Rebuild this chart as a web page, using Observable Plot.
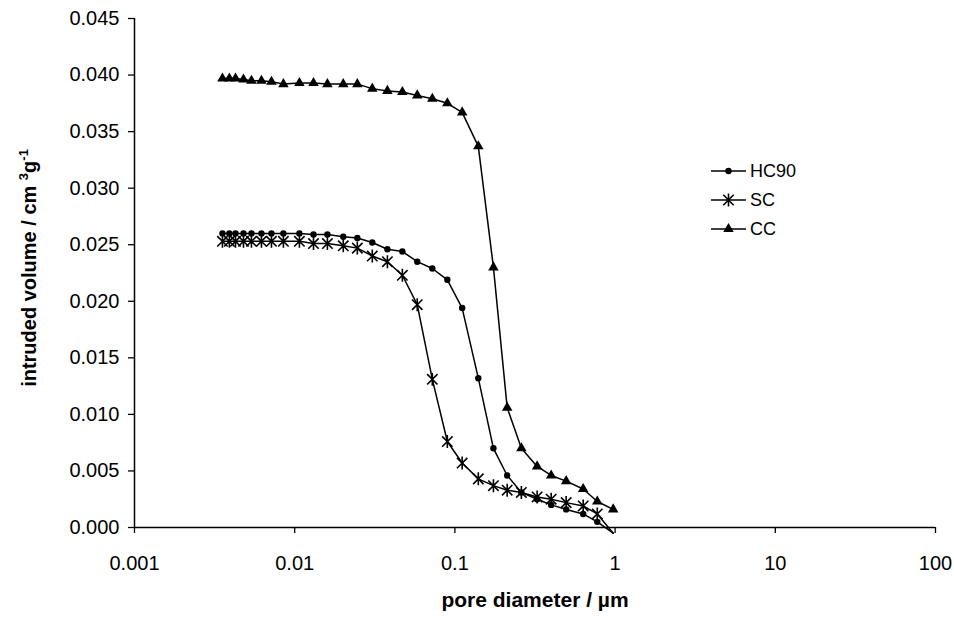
<!DOCTYPE html>
<html>
<head>
<meta charset="utf-8">
<script src="https://cdn.jsdelivr.net/npm/d3@7"></script>
<script src="https://cdn.jsdelivr.net/npm/@observablehq/plot@0.6"></script>
<style>
  html, body { margin: 0; padding: 0; background: #fff; }
  #chart { position: relative; width: 954px; height: 621px; }
</style>
</head>
<body>
<div id="chart"></div>
<script>
// ---- data ----
const diameter = [0.00354, 0.00391, 0.00427, 0.00479, 0.00537, 0.00620, 0.00716, 0.00850, 0.0107, 0.0131,
                  0.0160, 0.0201, 0.0246, 0.0305, 0.0379, 0.0470, 0.0582, 0.0723, 0.0897, 0.111,
                  0.140, 0.174, 0.212, 0.260, 0.326, 0.399, 0.495, 0.632, 0.774, 0.973];
const hc90 = [0.0260, 0.0260, 0.0260, 0.0260, 0.0260, 0.0260, 0.0260, 0.0260, 0.0260, 0.0259,
              0.0259, 0.0257, 0.0256, 0.0252, 0.0246, 0.0244, 0.0235, 0.0229, 0.0219, 0.0194,
              0.0132, 0.0070, 0.0046, 0.0031, 0.0025, 0.0020, 0.0016, 0.0012, 0.0005, -0.0005];
const sc   = [0.0253, 0.0253, 0.0253, 0.0253, 0.0253, 0.0253, 0.0253, 0.0253, 0.0253, 0.0251,
              0.0251, 0.0249, 0.0247, 0.0240, 0.0235, 0.0223, 0.0197, 0.0131, 0.0076, 0.0057,
              0.0043, 0.0037, 0.0033, 0.0031, 0.0027, 0.0025, 0.0022, 0.0019, 0.0012, -0.0005];
const cc   = [0.0397, 0.0397, 0.0397, 0.0396, 0.0395, 0.0395, 0.0394, 0.0392, 0.0393, 0.0393,
              0.0392, 0.0392, 0.0392, 0.0388, 0.0386, 0.0385, 0.0382, 0.0379, 0.0375, 0.0367,
              0.0337, 0.0230, 0.0106, 0.0070, 0.0054, 0.0046, 0.0041, 0.0034, 0.0023, 0.0016];
const seriesNames = ["HC90", "SC", "CC"];
const xTicks = [0.001, 0.01, 0.1, 1, 10, 100];
const xTickLabels = ["0.001", "0.01", "0.1", "1", "10", "100"];
const yTicks = [0, 0.005, 0.01, 0.015, 0.02, 0.025, 0.03, 0.035, 0.04, 0.045];
const yTickLabels = ["0.000", "0.005", "0.010", "0.015", "0.020", "0.025", "0.030", "0.035", "0.040", "0.045"];

// custom "star" marker (X plus vertical bar)
const starSymbol = {
  draw(ctx, size) {
    const r = Math.sqrt(size / Math.PI);
    const d = r * 0.8;
    ctx.moveTo(0, -r); ctx.lineTo(0, r);
    ctx.moveTo(-d, -d); ctx.lineTo(d, d);
    ctx.moveTo(-d, d); ctx.lineTo(d, -d);
  }
};

const seriesValues = [hc90, sc, cc];
const rows = [];
seriesNames.forEach((name, s) => {
  diameter.forEach((d, i) => rows.push({series: name, x: d, y: seriesValues[s][i]}));
});
const visible = rows.filter(r => r.y >= 0);

const font = "'Liberation Sans', Arial, sans-serif";

const chart = Plot.plot({
  width: 954,
  height: 621,
  marginLeft: 134,
  marginRight: 19,
  marginTop: 18,
  marginBottom: 94,
  style: {fontFamily: font, background: "#fff", color: "#000", overflow: "visible"},
  x: {type: "log", domain: [0.001, 100]},
  y: {domain: [0, 0.045]},
  marks: [
    Plot.axisY({ticks: yTicks, tickFormat: d => yTickLabels[yTicks.indexOf(d)], tickSize: 6, tickPadding: 9,
                fontSize: 20, label: null, stroke: "#000", strokeWidth: 1.3}),
    Plot.axisX({ticks: xTicks, tickFormat: d => xTickLabels[xTicks.indexOf(d)], tickSize: 6, tickPadding: 22,
                fontSize: 20, label: null, stroke: "#000", strokeWidth: 1.3}),
    Plot.ruleX([0.001], {y1: 0, y2: 0.045, stroke: "#000", strokeWidth: 1.5}),
    Plot.ruleY([0], {x1: 0.001, x2: 100, stroke: "#000", strokeWidth: 1.5}),
    Plot.line(rows, {x: "x", y: "y", z: "series", stroke: "#000", strokeWidth: 1.5}),
    Plot.dot(visible.filter(r => r.series === "HC90"), {x: "x", y: "y", r: 3.2, fill: "#000", stroke: "none"}),
    Plot.dot(visible.filter(r => r.series === "SC"), {x: "x", y: "y", r: 6.5, symbol: starSymbol, fill: "none", stroke: "#000", strokeWidth: 1.6}),
    Plot.dot(visible.filter(r => r.series === "CC"), {x: "x", y: "y", r: 3.9, symbol: "triangle", fill: "#000", stroke: "none"})
  ]
});

const svg = d3.select(chart);

// axis titles
svg.append("text")
  .attr("x", 535).attr("y", 607)
  .attr("text-anchor", "middle")
  .attr("font-family", font).attr("font-weight", "bold").attr("font-size", 21)
  .text("pore diameter / µm");

const yl = svg.append("text")
  .attr("transform", "translate(36,268) rotate(-90)")
  .attr("text-anchor", "middle")
  .attr("font-family", font).attr("font-weight", "bold").attr("font-size", 20);
yl.append("tspan").text("intruded volume / cm ");
yl.append("tspan").attr("dy", -8).attr("font-size", 13).text("3");
yl.append("tspan").attr("dy", 8).text("g");
yl.append("tspan").attr("dy", -8).attr("font-size", 13).text("-1");

// legend
const legendRows = [
  {name: "HC90", y: 171, sym: d3.symbol(d3.symbolCircle, Math.PI * 3.2 * 3.2), fill: "#000", stroke: "none"},
  {name: "SC", y: 200, sym: d3.symbol(starSymbol, Math.PI * 6.5 * 6.5), fill: "none", stroke: "#000"},
  {name: "CC", y: 229, sym: d3.symbol(d3.symbolTriangle, Math.PI * 3.9 * 3.9), fill: "#000", stroke: "none"}
];
const lg = svg.append("g");
legendRows.forEach(r => {
  lg.append("line").attr("x1", 711).attr("x2", 746).attr("y1", r.y).attr("y2", r.y)
    .attr("stroke", "#000").attr("stroke-width", 1.5);
  lg.append("path").attr("d", r.sym()).attr("transform", `translate(728.5,${r.y})`)
    .attr("fill", r.fill).attr("stroke", r.stroke).attr("stroke-width", 1.6);
  lg.append("text").attr("x", 750).attr("y", r.y).attr("dy", "0.36em")
    .attr("text-anchor", "start")
    .attr("font-family", font).attr("font-size", 18).text(r.name);
});

document.getElementById("chart").appendChild(chart);
</script>
</body>
</html>
